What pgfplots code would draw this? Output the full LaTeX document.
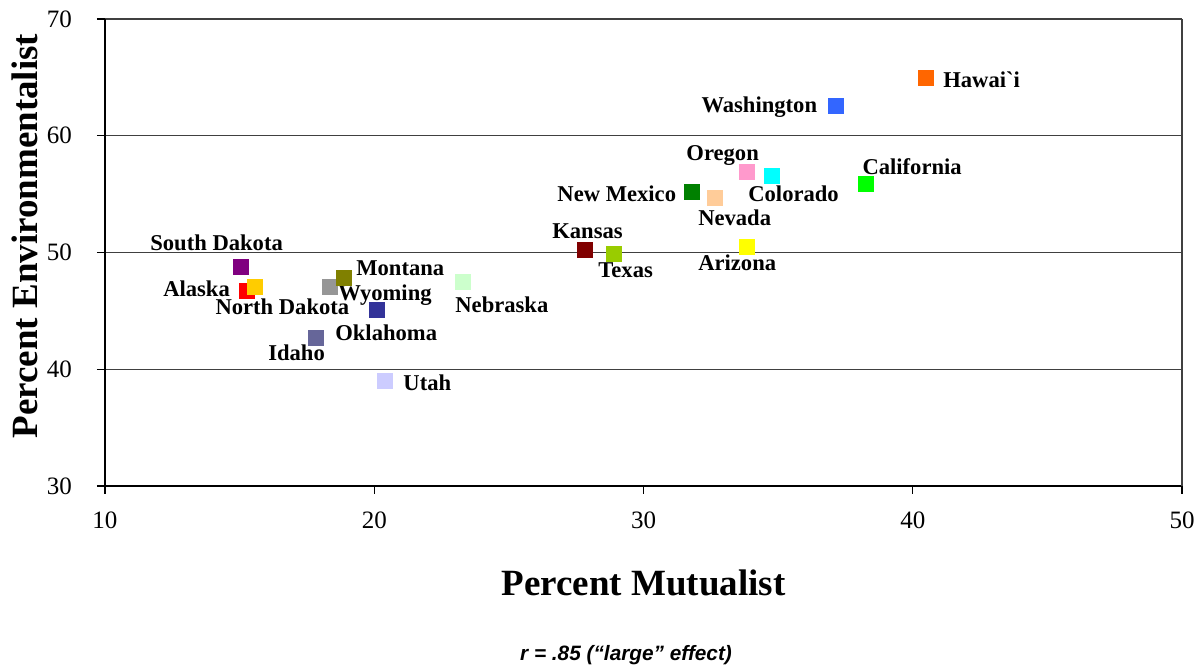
\documentclass[border=0pt]{standalone}
\usepackage{pgfplots}
\pgfplotsset{compat=1.18}
\usepackage{fontspec}
\setmainfont{Liberation Serif}
\newfontfamily\arialfont{Liberation Sans}
\definecolor{cHawaii}{HTML}{FF6600}
\definecolor{cWashington}{HTML}{3366FF}
\definecolor{cCalifornia}{HTML}{00FF00}
\definecolor{cOregon}{HTML}{FF99CC}
\definecolor{cColorado}{HTML}{00FFFF}
\definecolor{cNewMexico}{HTML}{008000}
\definecolor{cNevada}{HTML}{FFCC99}
\definecolor{cArizona}{HTML}{FFFF00}
\definecolor{cKansas}{HTML}{800000}
\definecolor{cTexas}{HTML}{99CC00}
\definecolor{cSouthDakota}{HTML}{800080}
\definecolor{cAlaska}{HTML}{FF0000}
\definecolor{cNorthDakota}{HTML}{FFCC00}
\definecolor{cWyoming}{HTML}{969696}
\definecolor{cMontana}{HTML}{808000}
\definecolor{cNebraska}{HTML}{CCFFCC}
\definecolor{cOklahoma}{HTML}{333399}
\definecolor{cIdaho}{HTML}{666699}
\definecolor{cUtah}{HTML}{CCCCFF}
\definecolor{gridc}{HTML}{404040}
\begin{document}
\begin{tikzpicture}
\useasboundingbox (-52.5pt,-91pt) rectangle (549.5pt,243pt);
\begin{axis}[
  at={(0,0)}, anchor=south west,
  scale only axis,
  width=538.5pt, height=233.5pt,
  xmin=10, xmax=50, ymin=30, ymax=70,
  xtick={10,20,30,40,50}, ytick={30,40,50,60,70},
  axis x line*=bottom, axis y line*=left,
  x axis line style={line width=1.3pt},
  y axis line style={line width=1pt},
  tick align=outside, major tick length=4pt,
  tick style={black, line width=0.6pt},
  ymajorgrids, grid style={gridc, line width=0.6pt},
  /pgf/number format/assume math mode=true,
  ticklabel style={font=\fontsize{12.5}{14}\selectfont},
  xticklabel style={yshift=-5.5pt},
  yticklabel style={xshift=-9pt},
  xlabel={Percent Mutualist},
  ylabel={Percent Environmentalist},
  label style={font=\fontsize{18.5}{21}\selectfont\bfseries},
  xlabel style={at={(axis description cs:0.5,-0.2077)}, anchor=center},
  ylabel style={at={(axis description cs:-0.0743,0.535)}, anchor=center},
  clip=false,
  every axis plot/.append style={only marks, mark=square*, mark size=3.75pt},
]
\addplot[cHawaii, mark options={fill=cHawaii, draw=cHawaii}] coordinates {(40.47,64.94)};
\addplot[cWashington, mark options={fill=cWashington, draw=cWashington}] coordinates {(37.16,62.57)};
\addplot[cCalifornia, mark options={fill=cCalifornia, draw=cCalifornia}] coordinates {(38.25,55.86)};
\addplot[cOregon, mark options={fill=cOregon, draw=cOregon}] coordinates {(33.85,56.92)};
\addplot[cColorado, mark options={fill=cColorado, draw=cColorado}] coordinates {(34.76,56.55)};
\addplot[cNewMexico, mark options={fill=cNewMexico, draw=cNewMexico}] coordinates {(31.81,55.20)};
\addplot[cNevada, mark options={fill=cNevada, draw=cNevada}] coordinates {(32.65,54.66)};
\addplot[cArizona, mark options={fill=cArizona, draw=cArizona}] coordinates {(33.85,50.46)};
\addplot[cKansas, mark options={fill=cKansas, draw=cKansas}] coordinates {(27.81,50.20)};
\addplot[cTexas, mark options={fill=cTexas, draw=cTexas}] coordinates {(28.89,49.84)};
\addplot[cSouthDakota, mark options={fill=cSouthDakota, draw=cSouthDakota}] coordinates {(15.05,48.75)};
\addplot[cAlaska, mark options={fill=cAlaska, draw=cAlaska}] coordinates {(15.27,46.67)};
\addplot[cNorthDakota, mark options={fill=cNorthDakota, draw=cNorthDakota}] coordinates {(15.56,47.04)};
\addplot[cWyoming, mark options={fill=cWyoming, draw=cWyoming}] coordinates {(18.34,47.06)};
\addplot[cMontana, mark options={fill=cMontana, draw=cMontana}] coordinates {(18.86,47.83)};
\addplot[cNebraska, mark options={fill=cNebraska, draw=cNebraska}] coordinates {(23.30,47.44)};
\addplot[cOklahoma, mark options={fill=cOklahoma, draw=cOklahoma}] coordinates {(20.11,45.06)};
\addplot[cIdaho, mark options={fill=cIdaho, draw=cIdaho}] coordinates {(17.83,42.69)};
\addplot[cUtah, mark options={fill=cUtah, draw=cUtah}] coordinates {(20.40,38.98)};
\draw[gridc, line width=0.8pt] (rel axis cs:1,0) -- (rel axis cs:1,1);
\begin{scope}[every node/.style={anchor=base west, inner sep=0pt, font=\fontsize{11.3}{13}\selectfont\bfseries}]
\node at (axis cs:41.12,64.09) {Hawai{\addfontfeatures{Ligatures=TeXOff}`}i};
\node at (axis cs:32.14,61.95) {Washington};
\node at (axis cs:38.12,56.64) {California};
\node at (axis cs:31.58,57.84) {Oregon};
\node at (axis cs:33.88,54.41) {Colorado};
\node at (axis cs:26.79,54.33) {New Mexico};
\node at (axis cs:32.02,52.27) {Nevada};
\node at (axis cs:32.02,48.42) {Arizona};
\node at (axis cs:26.60,51.24) {Kansas};
\node at (axis cs:28.31,47.82) {Texas};
\node at (axis cs:11.67,50.21) {South Dakota};
\node at (axis cs:12.15,46.27) {Alaska};
\node at (axis cs:14.09,44.73) {North Dakota};
\node at (axis cs:19.32,47.99) {Montana};
\node at (axis cs:18.65,45.85) {Wyoming};
\node at (axis cs:23.00,44.82) {Nebraska};
\node at (axis cs:18.54,42.42) {Oklahoma};
\node at (axis cs:16.05,40.79) {Idaho};
\node at (axis cs:21.07,38.14) {Utah};
\end{scope}
\node[anchor=center, inner sep=0pt, font=\arialfont\fontsize{10.4}{12}\selectfont\bfseries\itshape] at ([yshift=-84.5pt]rel axis cs:0.4838,0) {r = .85 (“large” effect)};
\end{axis}
\end{tikzpicture}
\end{document}
